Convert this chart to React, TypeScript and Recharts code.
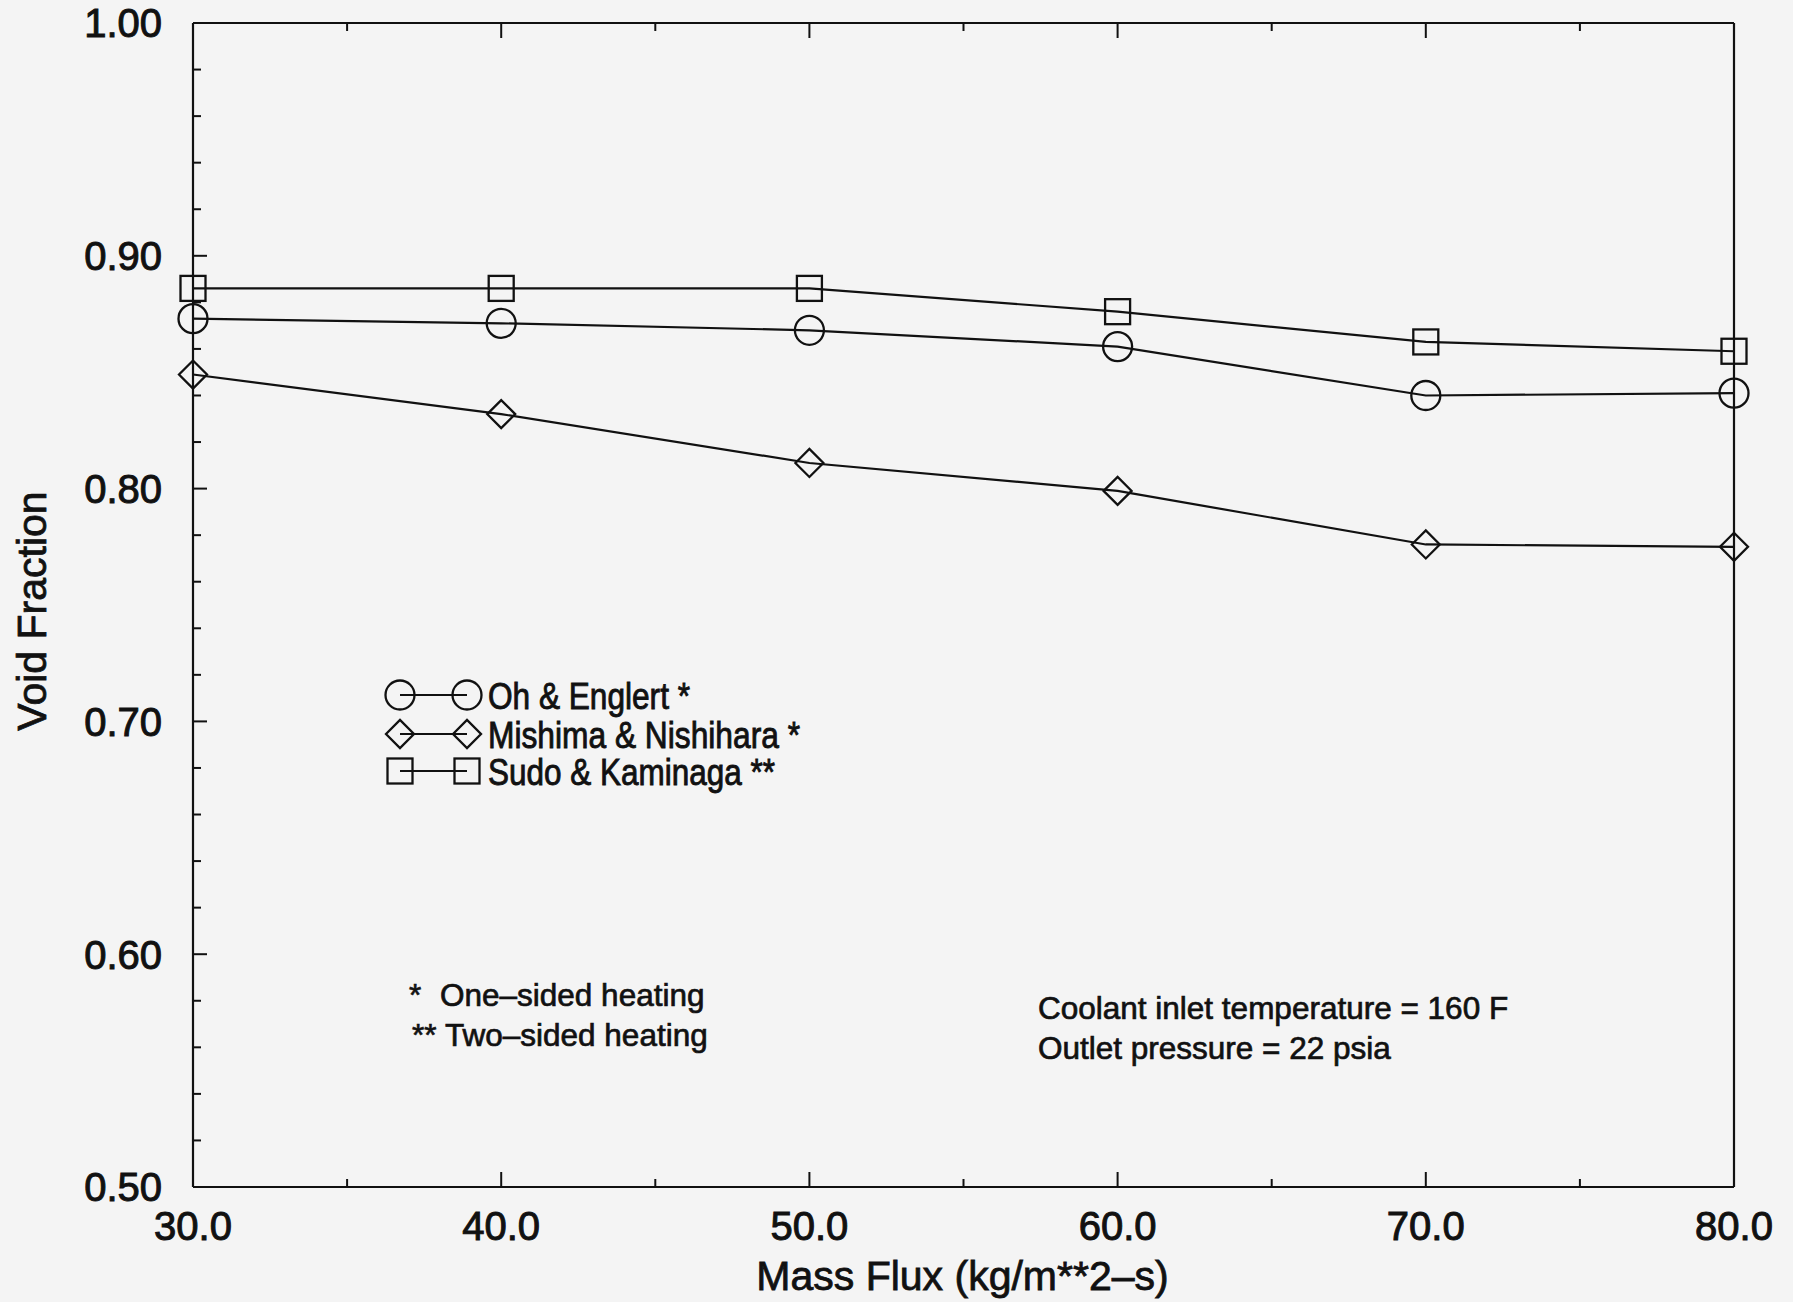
import React from "react";
import { LineChart, Line, XAxis, YAxis, Legend, Label } from "recharts";

// Mass flux (kg/m**2-s) on the x axis
const massFlux = [30, 40, 50, 60, 70, 80];

// void fraction
const ohEnglert = [0.873, 0.871, 0.868, 0.861, 0.84, 0.841];
const mishimaNishihara = [0.849, 0.832, 0.811, 0.799, 0.776, 0.775];
const sudoKaminaga = [0.886, 0.886, 0.886, 0.876, 0.863, 0.859];

const xTicks = [30, 35, 40, 45, 50, 55, 60, 65, 70, 75, 80];
const yTicks = [
  0.5, 0.52, 0.54, 0.56, 0.58, 0.6, 0.62, 0.64, 0.66, 0.68, 0.7, 0.72, 0.74,
  0.76, 0.78, 0.8, 0.82, 0.84, 0.86, 0.88, 0.9, 0.92, 0.94, 0.96, 0.98, 1.0,
];

const seriesNames = ["Oh & Englert *", "Mishima & Nishihara *", "Sudo & Kaminaga **"];

const INK = "#111111";
const FONT = "'Liberation Sans', Arial, Helvetica, sans-serif";

type Shape = "circle" | "diamond" | "square";

const series: { key: string; name: string; shape: Shape; legendLen: number }[] = [
  { key: "oh", name: seriesNames[0], shape: "circle", legendLen: 202 },
  { key: "mishima", name: seriesNames[1], shape: "diamond", legendLen: 312 },
  { key: "sudo", name: seriesNames[2], shape: "square", legendLen: 287 },
];

const data = massFlux.map((x, i) => ({
  x,
  oh: ohEnglert[i],
  mishima: mishimaNishihara[i],
  sudo: sudoKaminaga[i],
}));

// hollow scan-style markers
const Marker = ({ cx, cy, shape }: { cx?: number; cy?: number; shape: Shape }) => {
  if (cx == null || cy == null) return null;
  if (shape === "circle") {
    return <circle cx={cx} cy={cy} r={14.5} fill="none" stroke={INK} strokeWidth={2.3} />;
  }
  if (shape === "square") {
    return (
      <rect x={cx - 12.5} y={cy - 12.5} width={25} height={25} fill="none" stroke={INK} strokeWidth={2.3} />
    );
  }
  const h = 14;
  return (
    <polygon
      points={`${cx - h},${cy} ${cx},${cy - h} ${cx + h},${cy} ${cx},${cy + h}`}
      fill="none"
      stroke={INK}
      strokeWidth={2.3}
    />
  );
};

// inward ticks; labels only on bottom / left
const XTick = (props: any) => {
  const { x, y, payload, side } = props;
  const v = payload.value as number;
  const major = v % 10 === 0;
  const len = major ? 15 : 8;
  const dir = side === "bottom" ? -1 : 1;
  return (
    <g>
      <line x1={x} y1={y} x2={x} y2={y + dir * len} stroke={INK} strokeWidth={2} />
      {side === "bottom" && major && (
        <text
          x={x}
          y={y + 39}
          dy="0.36em"
          textAnchor="middle"
          fontFamily={FONT}
          fontSize={40}
          fill={INK}
          stroke={INK}
          strokeWidth={1}
        >
          {v.toFixed(1)}
        </text>
      )}
    </g>
  );
};

const YTick = (props: any) => {
  const { x, y, payload, side } = props;
  const v = payload.value as number;
  const major = Math.round(v * 100) % 10 === 0;
  const len = major ? 14 : 8;
  const dir = side === "left" ? 1 : -1;
  return (
    <g>
      <line x1={x} y1={y} x2={x + dir * len} y2={y} stroke={INK} strokeWidth={2} />
      {side === "left" && major && (
        <text
          x={x - 31}
          y={y}
          dy="0.36em"
          textAnchor="end"
          fontFamily={FONT}
          fontSize={40}
          fill={INK}
          stroke={INK}
          strokeWidth={1}
        >
          {v.toFixed(2)}
        </text>
      )}
    </g>
  );
};

const XTitle = (props: any) => {
  const vb = props.viewBox || { x: 0, y: 0, width: 0, height: 0 };
  return (
    <text
      x={vb.x + vb.width / 2 - 1}
      y={vb.y + 103}
      textAnchor="middle"
      fontFamily={FONT}
      fontSize={41}
      fill={INK}
      stroke={INK}
      strokeWidth={0.8}
    >
      Mass Flux (kg/m**2–s)
    </text>
  );
};

const YTitle = (props: any) => {
  const vb = props.viewBox || { x: 0, y: 0, width: 0, height: 0 };
  const cx = vb.x + 31;
  const cy = vb.y + vb.height / 2 + 6;
  return (
    <text
      x={cx}
      y={cy}
      dy="0.36em"
      textAnchor="middle"
      transform={`rotate(-90 ${cx} ${cy})`}
      fontFamily={FONT}
      fontSize={41}
      fill={INK}
      stroke={INK}
      strokeWidth={0.8}
    >
      Void Fraction
    </text>
  );
};

const LegendBox = () => {
  const rows = [23, 62, 99];
  return (
    <svg width={400} height={130} style={{ display: "block", overflow: "visible" }}>
      {series.map((s, i) => (
        <g key={s.key}>
          <line x1={25} y1={rows[i]} x2={92} y2={rows[i]} stroke={INK} strokeWidth={2} />
          <Marker cx={25} cy={rows[i]} shape={s.shape} />
          <Marker cx={92} cy={rows[i]} shape={s.shape} />
          <text
            x={113}
            y={rows[i] + 14}
            fontFamily={FONT}
            fontSize={37}
            textLength={s.legendLen}
            lengthAdjust="spacingAndGlyphs"
            fill={INK}
            stroke={INK}
            strokeWidth={0.9}
          >
            {s.name}
          </text>
        </g>
      ))}
    </svg>
  );
};

const noteStyle = {
  fontFamily: FONT,
  fontSize: 31.5,
  fill: INK,
  stroke: INK,
  strokeWidth: 0.7,
};

export default function App() {
  return (
    <div style={{ position: "relative", width: 1793, height: 1302, background: "#f4f4f4" }}>
      <style>{"body{margin:0}"}</style>
      <LineChart width={1793} height={1302} data={data} margin={{ top: 0, right: 0, bottom: 0, left: 0 }}>
        <XAxis
          xAxisId="bottom"
          dataKey="x"
          type="number"
          domain={[30, 80]}
          ticks={xTicks}
          height={115}
          orientation="bottom"
          tickSize={0}
          tickMargin={0}
          tickLine={false}
          axisLine={{ stroke: INK, strokeWidth: 2.2 }}
          tick={<XTick side="bottom" />}
          interval={0}
        >
          <Label content={<XTitle />} />
        </XAxis>
        <XAxis
          xAxisId="top"
          dataKey="x"
          type="number"
          domain={[30, 80]}
          ticks={xTicks}
          height={23}
          orientation="top"
          tickSize={0}
          tickMargin={0}
          tickLine={false}
          axisLine={{ stroke: INK, strokeWidth: 2.2 }}
          tick={<XTick side="top" />}
          interval={0}
        />
        <YAxis
          yAxisId="left"
          type="number"
          domain={[0.5, 1.0]}
          ticks={yTicks}
          width={193}
          orientation="left"
          tickSize={0}
          tickMargin={0}
          tickLine={false}
          axisLine={{ stroke: INK, strokeWidth: 2.2 }}
          tick={<YTick side="left" />}
          interval={0}
        >
          <Label content={<YTitle />} />
        </YAxis>
        <YAxis
          yAxisId="right"
          type="number"
          domain={[0.5, 1.0]}
          ticks={yTicks}
          width={59}
          orientation="right"
          tickSize={0}
          tickMargin={0}
          tickLine={false}
          axisLine={{ stroke: INK, strokeWidth: 2.2 }}
          tick={<YTick side="right" />}
          interval={0}
        />
        <Legend
          layout="vertical"
          align="center"
          verticalAlign="middle"
          wrapperStyle={{ left: 375, top: 672, width: 400, height: 130 }}
          content={() => <LegendBox />}
        />
        {series.map((s) => (
          <Line
            key={s.key}
            xAxisId="bottom"
            yAxisId="left"
            dataKey={s.key}
            name={s.name}
            type="linear"
            stroke={INK}
            strokeWidth={2.2}
            isAnimationActive={false}
            dot={(p: any) => <Marker key={p.index} cx={p.cx} cy={p.cy} shape={s.shape} />}
            activeDot={false}
          />
        ))}
      </LineChart>

      {/* free text notes on the plot */}
      <svg
        width={1793}
        height={1302}
        style={{ position: "absolute", left: 0, top: 0, pointerEvents: "none" }}
      >
        <text x={409} y={1006} {...noteStyle}>*</text>
        <text x={440} y={1006} {...noteStyle}>One–sided heating</text>
        <text x={412} y={1046} {...noteStyle}>**</text>
        <text x={445} y={1046} {...noteStyle}>Two–sided heating</text>
        <text x={1038} y={1019} {...noteStyle}>Coolant inlet temperature = 160 F</text>
        <text x={1038} y={1059} {...noteStyle}>Outlet pressure = 22 psia</text>
      </svg>
    </div>
  );
}
